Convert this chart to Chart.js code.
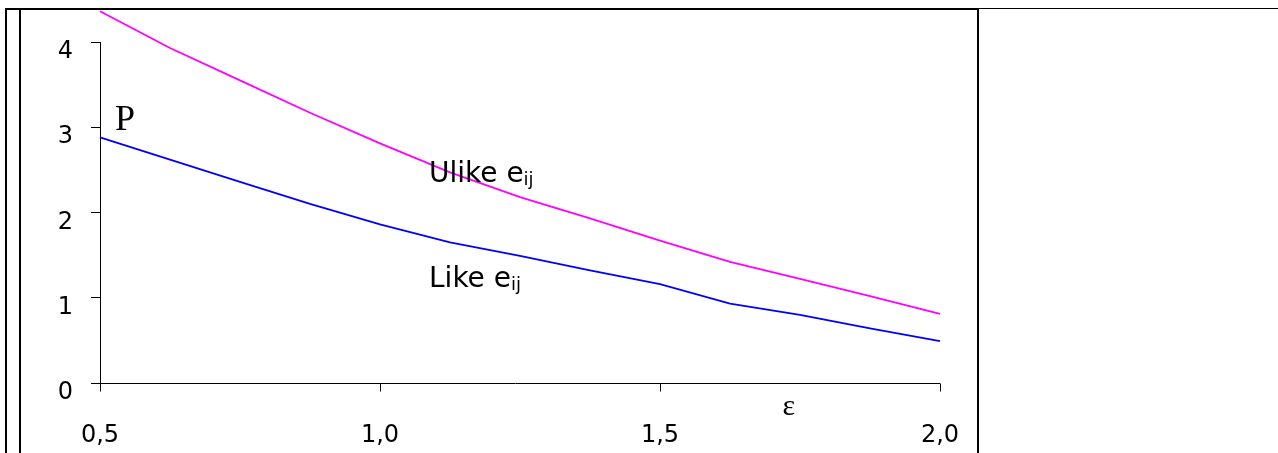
<!DOCTYPE html>
<html>
<head>
<meta charset="utf-8">
<title>P(ε)</title>
<script src="https://cdn.jsdelivr.net/npm/chart.js@4.4.1/dist/chart.umd.min.js"></script>
<style>
  html, body { margin: 0; padding: 0; background: #fff; }
  #wrap { position: relative; width: 1278px; height: 453px; overflow: hidden; }
  #wrap canvas { position: absolute; left: 0; top: 0; }
  .rule { position: absolute; background: #000; }
</style>
</head>
<body>
<div id="wrap">
  <canvas id="chart" width="1278" height="453"></canvas>
  <!-- page frame -->
  <div class="rule" style="left:5px; top:8px; width:974px; height:2px;"></div>
  <div class="rule" style="left:978px; top:8px; width:300px; height:1px;"></div>
  <div class="rule" style="left:5px; top:8px; width:2px; height:445px;"></div>
  <div class="rule" style="left:19px; top:8px; width:2px; height:445px;"></div>
  <div class="rule" style="left:977px; top:8px; width:2px; height:445px;"></div>
</div>
<script>
// epsilon steps and the two P curves
const epsilon = [0.5, 0.625, 0.75, 0.875, 1.0, 1.125, 1.25, 1.375, 1.5, 1.625, 1.75, 1.875, 2.0];
const ulikeP = [4.36, 3.93, 3.55, 3.17, 2.81, 2.47, 2.18, 1.93, 1.67, 1.42, 1.22, 1.02, 0.81];
const likeP = [2.88, 2.62, 2.36, 2.10, 1.86, 1.65, 1.49, 1.32, 1.16, 0.93, 0.80, 0.64, 0.49];
const xTicks = [0.5, 1.0, 1.5, 2.0];
const yTicks = [0, 1, 2, 3, 4];

// text placed in data units: [text, subscript, x, y, font, align]
const notes = [
  ["Ulike e", "ij", 1.0875, 2.353, "28px 'DejaVu Sans'", "left"],
  ["Like e", "ij", 1.0875, 1.129, "28px 'DejaVu Sans'", "left"],
  ["P", "", 0.527, 2.965, "36px 'Liberation Serif'", "left"],
  ["ε", "", 1.730, -0.376, "30px 'Liberation Serif'", "center"]
];

const toPoints = (xs, ys) => xs.map((v, i) => ({ x: v, y: ys[i] }));

// x axis line plus tick marks hanging below it at the labelled values
const xAxisPlugin = {
  id: "xAxisLine",
  afterDraw(chart) {
    const ctx = chart.ctx;
    const xs = chart.scales.x;
    const y0 = Math.round(chart.chartArea.bottom) + 0.5;
    ctx.save();
    ctx.strokeStyle = "#000";
    ctx.lineWidth = 1;
    ctx.beginPath();
    ctx.moveTo(chart.chartArea.left - 9, y0);
    ctx.lineTo(chart.chartArea.right, y0);
    xTicks.forEach((v) => {
      const px = Math.round(xs.getPixelForValue(v)) + 0.5;
      ctx.moveTo(px, y0);
      ctx.lineTo(px, y0 + 8);
    });
    ctx.stroke();
    ctx.restore();
  }
};

const notesPlugin = {
  id: "notes",
  afterDraw(chart) {
    const ctx = chart.ctx;
    const xs = chart.scales.x, ys = chart.scales.y;
    ctx.save();
    ctx.fillStyle = "#000";
    ctx.textBaseline = "alphabetic";
    notes.forEach(([text, sub, xv, yv, font, align]) => {
      const px = xs.getPixelForValue(xv);
      const py = ys.getPixelForValue(yv);
      ctx.font = font;
      ctx.textAlign = align;
      ctx.fillText(text, px, py);
      if (sub) {
        const w = ctx.measureText(text).width;
        ctx.font = "18px 'DejaVu Sans'";
        ctx.textAlign = "left";
        ctx.fillText(sub, px + w, py + 3);
      }
    });
    ctx.restore();
  }
};

const ctx = document.getElementById("chart").getContext("2d");
new Chart(ctx, {
  type: "line",
  data: {
    datasets: [
      {
        label: "Ulike eij",
        data: toPoints(epsilon, ulikeP),
        borderColor: "#ff00ff",
        borderWidth: 1.8,
        pointRadius: 0,
        tension: 0,
        clip: false
      },
      {
        label: "Like eij",
        data: toPoints(epsilon, likeP),
        borderColor: "#0000ff",
        borderWidth: 1.8,
        pointRadius: 0,
        tension: 0,
        clip: false
      }
    ]
  },
  options: {
    responsive: false,
    animation: false,
    layout: { padding: { left: 0, top: 42, right: 338, bottom: 0 } },
    plugins: { legend: { display: false }, tooltip: { enabled: false } },
    scales: {
      x: {
        type: "linear",
        min: xTicks[0],
        max: xTicks[xTicks.length - 1],
        afterBuildTicks: (s) => { s.ticks = xTicks.map((v) => ({ value: v })); },
        afterFit: (s) => { s.height = 70; },
        border: { display: false },
        grid: { display: false },
        ticks: {
          color: "#000",
          padding: 30,
          maxRotation: 0,
          autoSkip: false,
          font: { family: "'DejaVu Sans'", size: 24 },
          callback: (v) => v.toFixed(1).replace(".", ",")
        }
      },
      y: {
        min: yTicks[0],
        max: yTicks[yTicks.length - 1],
        afterBuildTicks: (s) => { s.ticks = yTicks.map((v) => ({ value: v })); },
        afterFit: (s) => { s.width = 100; },
        border: { color: "#000", width: 1 },
        grid: { drawOnChartArea: false, tickLength: 9, color: "#000" },
        ticks: {
          color: "#000",
          padding: 18,
          labelOffset: 10,
          font: { family: "'DejaVu Sans'", size: 24 }
        }
      }
    }
  },
  plugins: [xAxisPlugin, notesPlugin]
});
</script>
</body>
</html>
